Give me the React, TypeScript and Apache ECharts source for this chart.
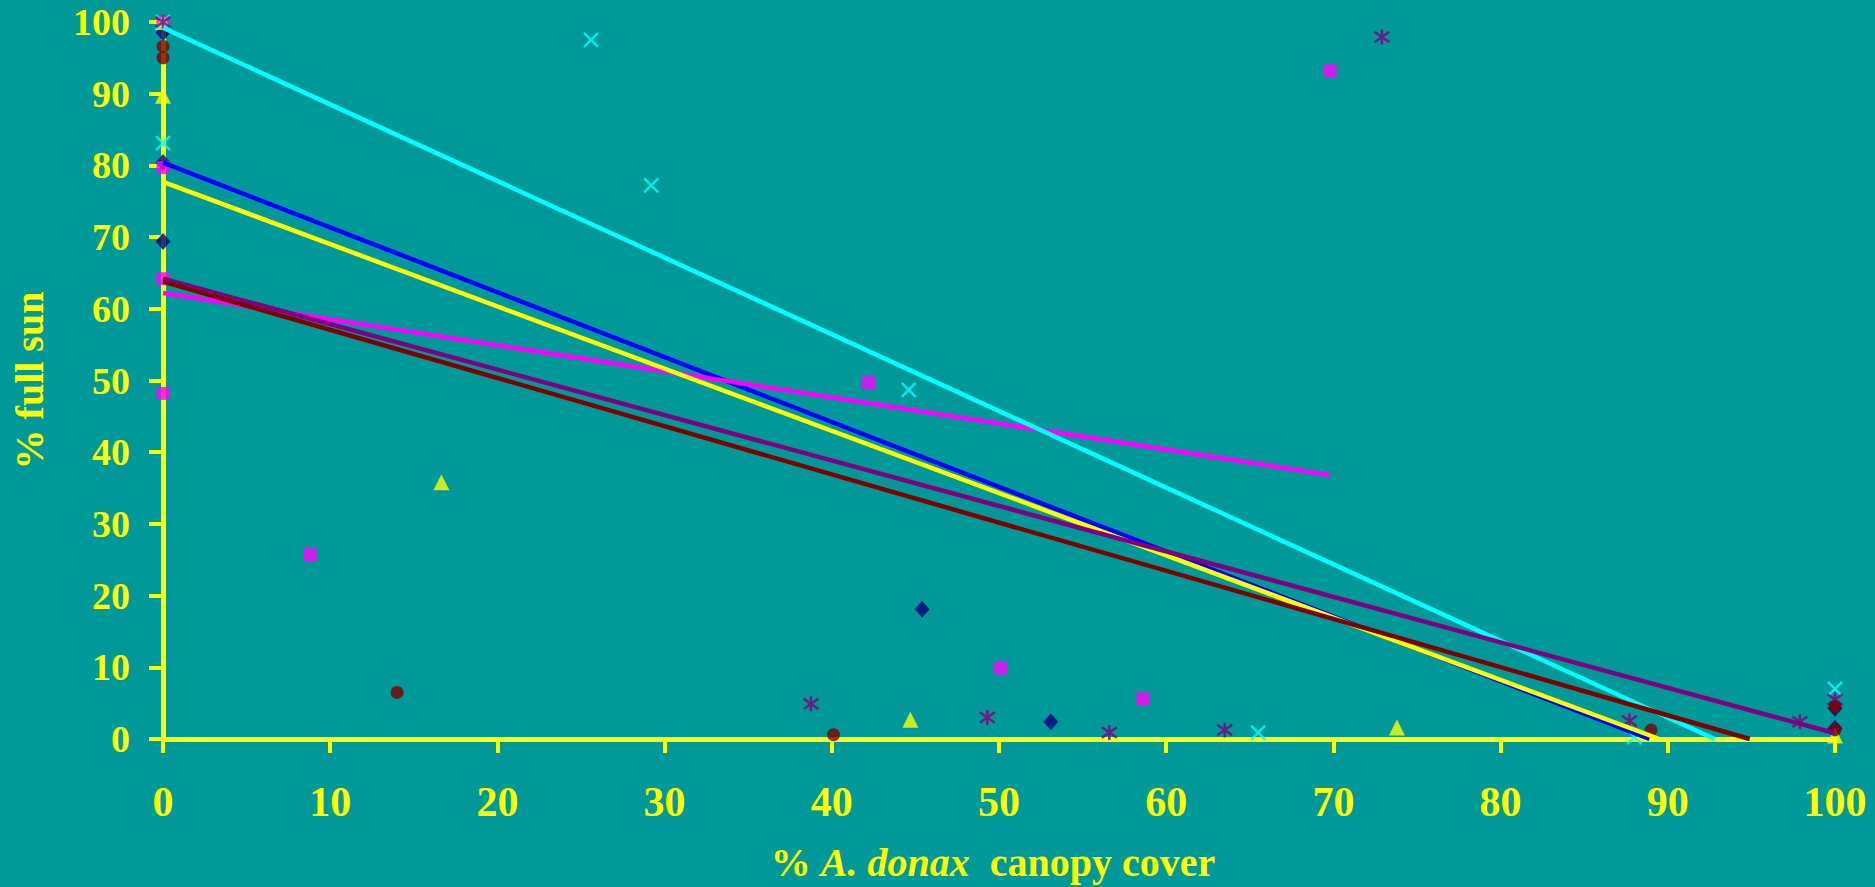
import React, { useEffect, useRef } from "react";
import * as echarts from "echarts";

// Scatter data: [% A. donax canopy cover, % full sun]
const navyPts = [[0, 98.5], [0, 80.4], [0, 69.4], [45.4, 18.1], [53.1, 2.4], [100, 4.3], [100, 1.5]];
const magentaPts = [[0, 100], [0, 79.7], [0, 64.2], [0, 48.2], [8.8, 25.7], [42.2, 49.7], [50.1, 9.9], [58.6, 5.6], [69.8, 93.2]];
const yellowPts = [[0, 100], [0, 89.7], [16.65, 35.8], [44.7, 2.7], [73.8, 1.6], [100, 0.5]];
const cyanPts = [[0, 100], [0, 83.1], [25.6, 97.5], [29.2, 77.2], [44.6, 48.7], [65.5, 0.9], [88, 0.3], [100, 7.0]];
const purplePts = [[0, 100], [38.75, 4.9], [49.3, 3.0], [56.6, 0.9], [63.5, 1.25], [72.9, 97.9], [87.7, 2.5], [97.9, 2.4], [100, 5.5]];
const maroonPts = [[0, 96.6], [0, 95.0], [14.0, 6.5], [40.1, 0.6], [89.0, 1.25], [100, 4.5], [100, 1.3]];

// Linear trend lines (endpoints)
const trendNavy = [[0, 80.4], [88.9, 0]];
const trendMagenta = [[0, 62.2], [69.8, 36.8]];
const trendYellow = [[0, 77.7], [89.5, 0]];
const trendCyan = [[0, 99.2], [92.8, 0]];
const trendPurple = [[0, 64.2], [100, 0.8]];
const trendMaroon = [[0, 63.8], [94.9, 0]];

const Y = "#FFFF00";
const FONT = "'Liberation Serif', 'Times New Roman', serif";

const X_SYMBOL = "path://M0,0L10,10M10,0L0,10";
const STAR_SYMBOL = "path://M5,0L5,10M0,1.5L10,8.5M10,1.5L0,8.5";

export default function App() {
  const ref = useRef<HTMLDivElement>(null);
  useEffect(() => {
    const chart = echarts.init(ref.current!, null, { renderer: "svg" });
    const scatter = (data: number[][], color: string, symbol: string, size: number | number[], stroke = false) => ({
      type: "scatter",
      data,
      symbol,
      symbolSize: size,
      itemStyle: stroke
        ? { color: "rgba(0,0,0,0)", borderColor: color, borderWidth: 2.5 }
        : { color, borderWidth: 0 },
      z: 2,
    });
    const trend = (data: number[][], color: string) => ({
      type: "line",
      data,
      symbol: "none",
      lineStyle: { color, width: 4.5 },
      z: 3,
    });
    chart.setOption({
      animation: false,
      backgroundColor: "#009999",
      grid: { left: 163, right: 40, top: 22, bottom: 148 },
      xAxis: {
        type: "value",
        min: 0,
        max: 100,
        interval: 10,
        name: "{a|% }{b|A. donax}{a|  canopy cover}",
        nameLocation: "middle",
        nameGap: 103,
        nameTextStyle: {
          color: Y,
          fontFamily: FONT,
          fontWeight: "bold",
          fontSize: 40,
          padding: [0, 12, 0, 0],
          rich: {
            a: { color: Y, fontFamily: FONT, fontWeight: "bold", fontSize: 40 },
            b: { color: Y, fontFamily: FONT, fontWeight: "bold", fontStyle: "italic", fontSize: 40 },
          },
        },
        axisLine: { show: true, lineStyle: { color: Y, width: 5 } },
        axisTick: { show: true, length: 14, lineStyle: { color: Y, width: 4 } },
        axisLabel: { color: Y, fontFamily: FONT, fontWeight: "bold", fontSize: 42, lineHeight: 36, margin: 45 },
        splitLine: { show: false },
      },
      yAxis: {
        type: "value",
        min: 0,
        max: 100,
        interval: 10,
        name: "% full sun",
        nameLocation: "middle",
        nameGap: 114,
        nameTextStyle: { color: Y, fontFamily: FONT, fontWeight: "bold", fontSize: 40 },
        axisLine: { show: true, lineStyle: { color: Y, width: 5 } },
        axisTick: { show: true, length: 14, lineStyle: { color: Y, width: 4 } },
        axisLabel: { color: Y, fontFamily: FONT, fontWeight: "bold", fontSize: 38, lineHeight: 32, margin: 33 },
        splitLine: { show: false },
      },
      series: [
        scatter(navyPts, "#000080", "diamond", [15, 17]),
        scatter(magentaPts, "#FF00FF", "rect", 13),
        scatter(yellowPts, "#FFFF00", "triangle", 16),
        scatter(cyanPts, "#00FFFF", X_SYMBOL, 14, true),
        scatter(purplePts, "#800080", STAR_SYMBOL, 15, true),
        scatter(maroonPts, "#800000", "circle", 13),
        trend(trendNavy, "#0000FF"),
        trend(trendMagenta, "#FF00FF"),
        trend(trendYellow, "#FFFF00"),
        trend(trendCyan, "#00FFFF"),
        trend(trendPurple, "#800080"),
        trend(trendMaroon, "#800000"),
      ],
    });
    return () => chart.dispose();
  }, []);
  return (
    <div
      ref={ref}
      style={{ position: "fixed", left: 0, top: 0, width: 1875, height: 887, background: "#009999" }}
    />
  );
}
